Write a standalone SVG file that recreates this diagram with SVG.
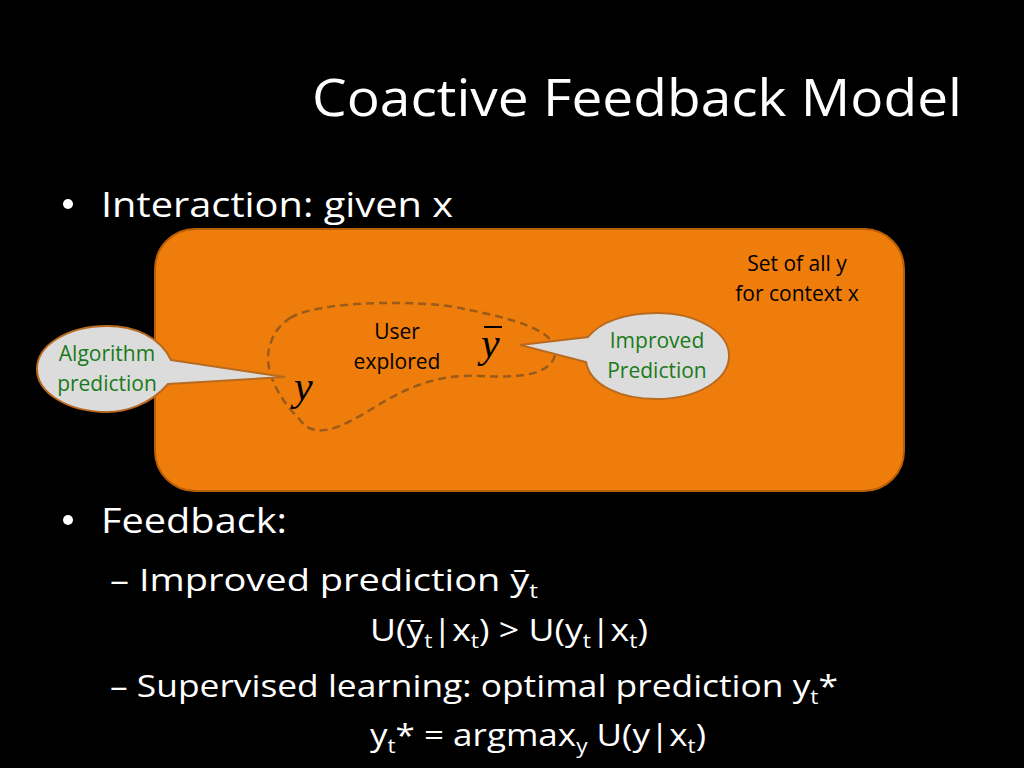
<svg xmlns="http://www.w3.org/2000/svg" width="1024" height="768" viewBox="0 0 1024 768">
<defs>
<style>
.t{font-family:"Open Sans","Liberation Sans",sans-serif;fill:#fff}
.s{font-family:"Open Sans","Liberation Sans",sans-serif;fill:#000;font-size:21px;text-anchor:middle}
.g{font-family:"Open Sans","Liberation Sans",sans-serif;fill:#1a7a1a;font-size:21px;text-anchor:middle}
.m{font-family:"Liberation Serif","DejaVu Serif",serif;font-style:italic;fill:#000;font-size:42px}
.call{fill:#dcdcdc;stroke:#b86a20;stroke-width:2}
</style>
</defs>
<rect width="1024" height="768" fill="#000"/>
<text class="t" x="312" y="116" font-size="52" textLength="650" lengthAdjust="spacingAndGlyphs">Coactive Feedback Model</text>
<circle cx="68" cy="204" r="5" fill="#fff"/>
<text class="t" x="101" y="217" font-size="35" textLength="352" lengthAdjust="spacingAndGlyphs">Interaction: given x</text>
<g id="set">
<rect x="155" y="229" width="749" height="262" rx="40" fill="#ee7d0c" stroke="#b85d08" stroke-width="2"/>
<text class="s" x="797" y="271">Set of all y</text>
<text class="s" x="797" y="301">for context x</text>
</g>
<g id="explored">
<path d="M290,318 C320,300 420,300 460,308 C510,318 560,330 555,355 C550,375 520,378 480,376 C440,374 410,385 370,410 C340,428 315,440 300,420 C280,400 262,370 270,345 C274,332 280,325 290,318 Z" fill="none" stroke="#9a5a1a" stroke-width="2.5" stroke-dasharray="8,5"/>
<text class="s" x="397" y="339">User</text>
<text class="s" x="397" y="369">explored</text>
</g>
<g id="y">
<text class="m" x="294" y="400">y</text>
</g>
<g id="ybar">
<text class="m" x="481" y="357">y</text>
<line x1="484" y1="327" x2="502" y2="327" stroke="#000" stroke-width="2"/>
</g>
<g id="algo">
<path class="call" d="M171,360 L285,377 L168,384 C150,405 125,412 107,412 C68,412 37,393 37,369 C37,345 68,326 107,326 C135,326 160,337 171,360 Z"/>
<text class="g" x="107" y="361">Algorithm</text>
<text class="g" x="107" y="391">prediction</text>
</g>
<g id="improved">
<path class="call" d="M588,337 C600,322 625,313 657,313 C697,313 729,332 729,356 C729,380 697,399 657,399 C620,399 590,385 586,362 L520,345 Z"/>
<text class="g" x="657" y="348">Improved</text>
<text class="g" x="657" y="378">Prediction</text>
</g>
<circle cx="68" cy="520" r="5" fill="#fff"/>
<text class="t" x="101" y="533" font-size="35" textLength="186" lengthAdjust="spacingAndGlyphs">Feedback:</text>
<text class="t" x="110" y="591" font-size="31" textLength="428" lengthAdjust="spacingAndGlyphs">– Improved prediction ȳ<tspan dy="7" font-size="20">t</tspan></text>
<text class="t" x="370" y="641" font-size="31" textLength="278" lengthAdjust="spacingAndGlyphs">U(ȳ<tspan dy="7" font-size="20">t</tspan><tspan dy="-7">|x</tspan><tspan dy="7" font-size="20">t</tspan><tspan dy="-7">) &gt; U(y</tspan><tspan dy="7" font-size="20">t</tspan><tspan dy="-7">|x</tspan><tspan dy="7" font-size="20">t</tspan><tspan dy="-7">)</tspan></text>
<text class="t" x="110" y="697" font-size="31" textLength="728" lengthAdjust="spacingAndGlyphs">– Supervised learning: optimal prediction y<tspan dy="7" font-size="20">t</tspan><tspan dy="-7">*</tspan></text>
<text class="t" x="370" y="746" font-size="31" textLength="336" lengthAdjust="spacingAndGlyphs">y<tspan dy="7" font-size="20">t</tspan><tspan dy="-7">* = argmax</tspan><tspan dy="7" font-size="20">y</tspan><tspan dy="-7"> U(y|x</tspan><tspan dy="7" font-size="20">t</tspan><tspan dy="-7">)</tspan></text>
</svg>
